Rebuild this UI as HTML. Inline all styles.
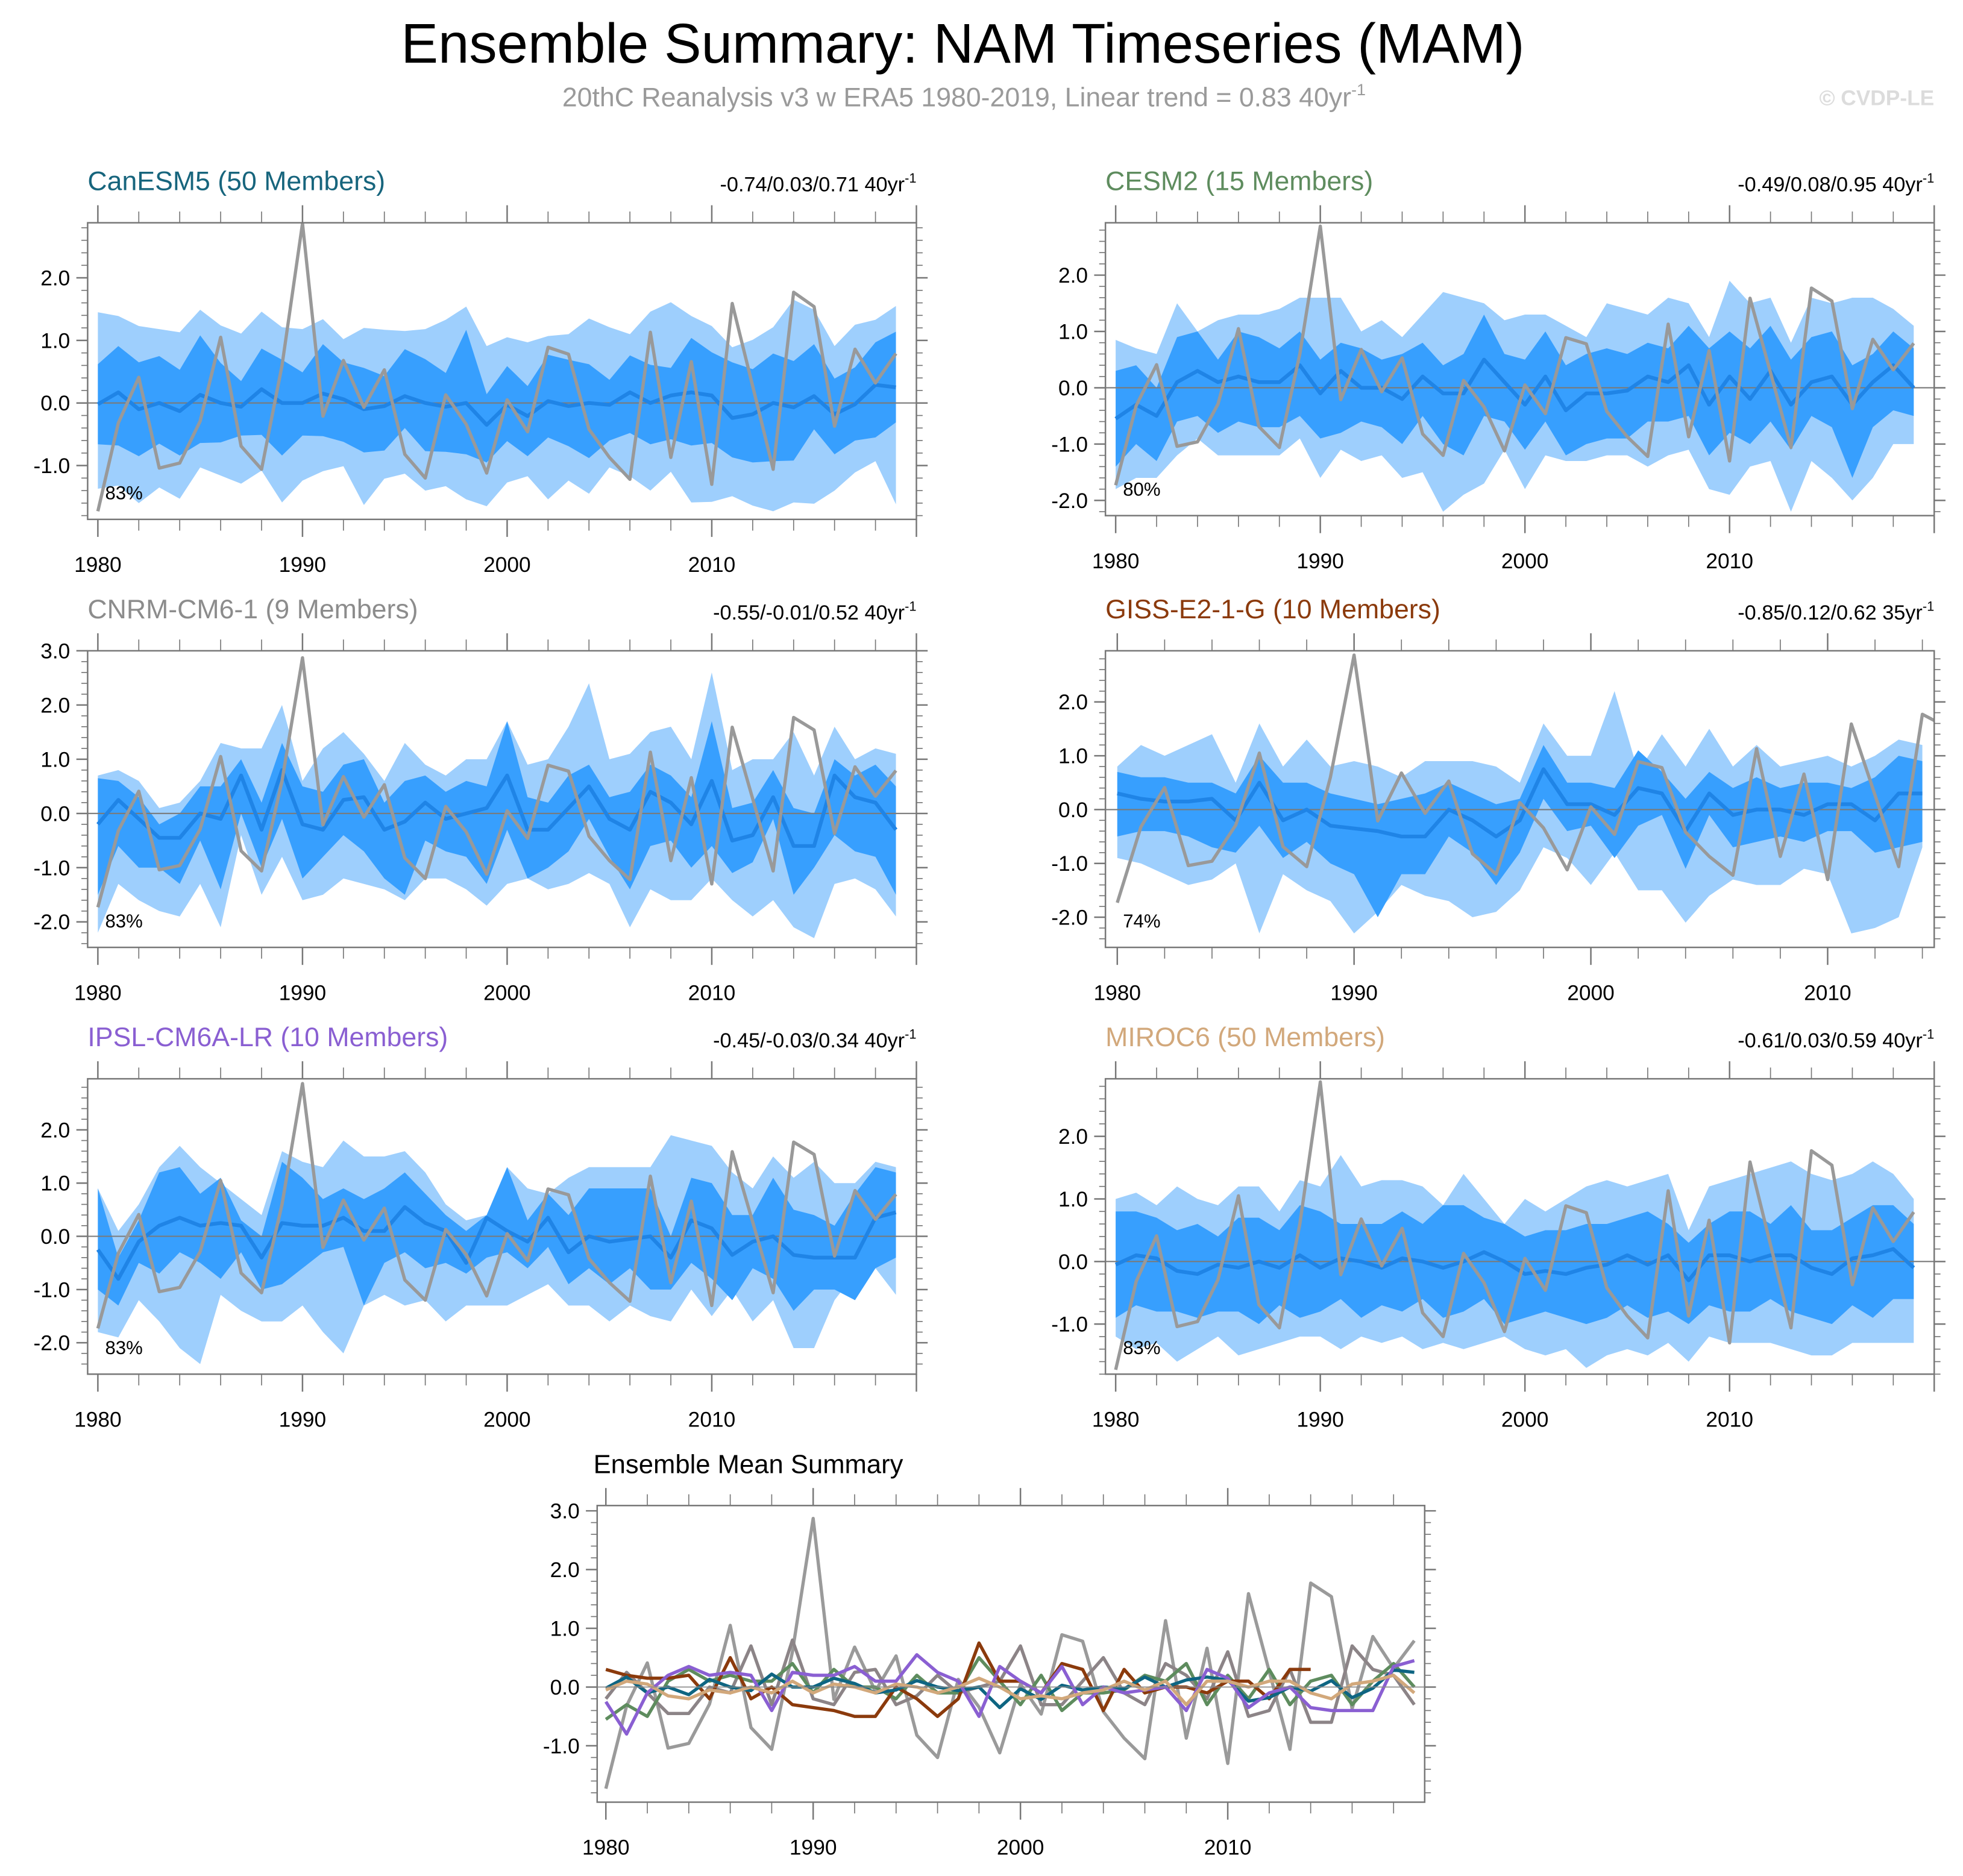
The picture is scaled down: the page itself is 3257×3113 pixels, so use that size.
<!DOCTYPE html>
<html><head><meta charset="utf-8"><style>
html,body{margin:0;padding:0;background:#fff;}
svg{display:block;font-family:"Liberation Sans",sans-serif;}
</style></head><body>
<svg id="fig" xmlns="http://www.w3.org/2000/svg" width="3257" height="3113" viewBox="0 0 1568 1499" preserveAspectRatio="none">
<rect x="0" y="0" width="1568" height="1499" fill="#fff"/>
<text x="769" y="50" font-size="44.5" text-anchor="middle" fill="#000">Ensemble Summary: NAM Timeseries (MAM)</text>
<text x="770" y="85" font-size="21.5" text-anchor="middle" fill="#9a9a9a">20thC Reanalysis v3 w ERA5 1980-2019, Linear trend = 0.83 40yr<tspan font-size="13" dy="-9">-1</tspan></text>
<text x="1545" y="84" font-size="17" font-weight="bold" text-anchor="end" fill="#dcdcdc">© CVDP-LE</text>
<g id="plots"></g>
</svg>
<script>
const obs = [-1.73,-0.32,0.41,-1.04,-0.96,-0.29,1.05,-0.69,-1.06,0.6,2.87,-0.21,0.68,-0.07,0.53,-0.82,-1.2,0.13,-0.34,-1.12,0.05,-0.46,0.89,0.78,-0.42,-0.87,-1.22,1.13,-0.87,0.66,-1.3,1.59,0.27,-1.06,1.77,1.54,-0.37,0.86,0.32,0.79];

const canMean = [-0.02,0.17,-0.1,0,-0.13,0.13,0,-0.06,0.22,0,0,0.15,0.06,-0.1,-0.05,0.11,0,-0.06,0,-0.35,-0.03,-0.21,0.03,-0.05,0,-0.03,0.17,0,0.12,0.17,0.12,-0.24,-0.18,0,-0.07,0.11,-0.18,-0.02,0.29,0.25];
const canDarkHi = [0.62,0.91,0.65,0.75,0.53,1.08,0.64,0.35,0.87,0.69,0.49,0.94,0.65,0.56,0.43,0.86,0.7,0.48,1.17,0.14,0.59,0.27,0.77,0.69,0.62,0.37,0.76,0.61,0.56,1.04,0.81,0.65,0.54,0.79,0.67,0.94,0.39,0.57,0.97,1.14];
const canDarkLo = [-0.66,-0.68,-0.85,-0.65,-0.84,-0.64,-0.63,-0.52,-0.51,-0.84,-0.52,-0.53,-0.62,-0.79,-0.76,-0.4,-0.77,-0.78,-0.82,-0.95,-0.61,-0.85,-0.55,-0.69,-0.88,-0.6,-0.48,-0.66,-0.58,-0.68,-0.64,-0.87,-0.95,-0.93,-0.92,-0.42,-0.82,-0.6,-0.55,-0.31];
const canLightHi = [1.45,1.39,1.23,1.18,1.13,1.49,1.24,1.11,1.46,1.21,1.18,1.34,1.02,1.2,1.17,1.15,1.18,1.33,1.54,0.91,1.05,0.97,1.07,1.1,1.35,1.21,1.1,1.46,1.61,1.39,1.23,0.89,1.01,1.21,1.65,1.49,0.91,1.25,1.33,1.55];
const canLightLo = [-1.37,-1.32,-1.6,-1.35,-1.53,-1.03,-1.16,-1.29,-1.08,-1.59,-1.24,-1.09,-1.01,-1.63,-1.21,-1.13,-1.4,-1.33,-1.54,-1.65,-1.27,-1.17,-1.54,-1.24,-1.45,-1.03,-1.17,-1.4,-1.1,-1.59,-1.58,-1.49,-1.64,-1.73,-1.59,-1.61,-1.4,-1.11,-0.93,-1.62];

const cesmMean = [-0.55,-0.3,-0.5,0.1,0.3,0.1,0.2,0.1,0.1,0.4,-0.1,0.3,0,0,-0.2,0.2,-0.1,-0.1,0.5,0.1,-0.3,0.2,-0.4,-0.1,-0.1,-0.05,0.2,0.1,0.4,-0.3,0.2,-0.2,0.3,-0.3,0.1,0.2,-0.3,0.1,0.4,0];
const cesmDarkHi = [0.3,0.4,0,0.9,1,0.5,1,0.9,0.7,1,0.5,0.8,0.7,0.5,0.6,0.8,0.4,0.6,1.3,0.6,0.5,1,0.4,0.6,0.7,0.6,0.8,0.7,1.1,0.7,1,0.7,1.1,0.5,0.9,1,0.4,0.6,1,0.7];
const cesmDarkLo = [-1.4,-1,-1.3,-0.6,-0.5,-0.8,-0.6,-0.7,-0.7,-0.5,-0.9,-0.8,-0.6,-0.7,-1,-0.5,-1,-1.2,-0.5,-0.6,-1.1,-0.6,-1.2,-1,-0.9,-0.9,-0.6,-0.6,-0.5,-1.2,-0.8,-1,-0.6,-1.1,-0.5,-0.7,-1.6,-0.7,-0.4,-0.5];
const cesmLightHi = [0.85,0.7,0.6,1.5,1,1.2,1.3,1.3,1.4,1.6,1.6,1.6,1,1.2,0.9,1.3,1.7,1.6,1.5,1.2,1.3,1.3,1.1,0.9,1.5,1.4,1.3,1.6,1.5,0.9,1.9,1.5,1.6,0.8,1.6,1.5,1.6,1.6,1.4,1.1];
const cesmLightLo = [-1.8,-1.6,-1.6,-1.2,-0.9,-1.2,-1.2,-1.2,-1.2,-0.9,-1.6,-1.1,-1.3,-1.2,-1.6,-1.5,-2.2,-1.9,-1.7,-1.1,-1.8,-1.2,-1.3,-1.3,-1.2,-1.2,-1.4,-1.2,-1.1,-1.8,-1.9,-1.4,-1.3,-2.2,-1.3,-1.6,-2,-1.6,-1,-1];

const cnrmMean = [-0.2,0.25,-0.1,-0.45,-0.45,0,-0.1,0.7,-0.3,0.8,-0.2,-0.3,0.25,0.3,-0.3,-0.15,0.2,-0.1,0,0.1,0.7,-0.3,-0.3,0.1,0.5,-0.1,-0.3,0.4,0.2,-0.2,0.6,-0.5,-0.4,0.3,-0.6,-0.6,0.7,0.3,0.2,-0.3];
const cnrmDarkHi = [0.65,0.6,0.3,-0.2,0,0.5,0.5,1,0.2,1.3,0.5,0.4,0.9,1,0.2,0.6,0.7,0.4,0.6,0.5,1.7,0.3,0.2,0.7,0.9,0.3,0.4,0.9,0.7,0.3,1.7,0.1,0.2,0.8,0.1,0,1,0.7,0.9,0.5];
const cnrmDarkLo = [-1.5,-0.6,-1,-1,-1.3,-0.5,-1.4,0,-1,-0.1,-1.2,-0.8,-0.4,-0.7,-1.2,-1.5,-0.5,-0.7,-0.8,-1.3,-0.3,-1.2,-1,-0.7,-0.1,-0.8,-1.4,-0.6,-0.5,-1,-0.6,-1.1,-0.9,-0.1,-1.5,-1,-0.4,-0.7,-0.8,-1.5];
const cnrmLightHi = [0.7,0.8,0.6,0.1,0.2,0.6,1.3,1.2,1.2,2,0.6,1.2,1.5,1.1,0.6,1.3,0.9,0.7,1,1,1.7,0.9,1,1.6,2.4,1,1.1,1.5,1.6,1,2.6,0.8,1,1,1.5,0.7,1.6,1,1.2,1.1];
const cnrmLightLo = [-2.2,-1.3,-1.6,-1.8,-1.9,-1.3,-2.1,-0.4,-1.5,-0.8,-1.6,-1.5,-1.2,-1.3,-1.4,-1.6,-1.2,-1.2,-1.4,-1.7,-1.3,-1.2,-1.4,-1.3,-1.1,-1.3,-2.1,-1.4,-1.6,-1.6,-1.2,-1.6,-1.9,-1.6,-2.1,-2.3,-1.3,-1.2,-1.4,-1.9];

const gissMean = [0.3,0.2,0.15,0.15,0.2,-0.2,0.5,-0.2,0,-0.3,-0.35,-0.4,-0.5,-0.5,0,-0.2,-0.5,-0.2,0.75,0.1,0.1,-0.1,0.4,0.3,-0.4,0.3,-0.1,0,0,-0.1,0.1,0.1,-0.2,0.3,0.3];
const gissDarkHi = [0.7,0.6,0.6,0.5,0.5,0.3,1,0.5,0.5,0.3,0.2,0.1,0.2,0.3,0.5,0.3,0.1,0.2,1.2,0.5,0.5,0.4,1.1,0.7,0.2,0.7,0.4,0.6,0.4,0.5,0.5,0.4,0.6,1,0.9];
const gissDarkLo = [-0.5,-0.4,-0.4,-0.5,-0.7,-0.8,-0.3,-0.9,-0.6,-1,-1.2,-2,-1.2,-1.2,-0.5,-0.8,-1.4,-0.8,0.2,-0.4,-0.3,-0.9,-0.3,-0.1,-1.1,-0.1,-0.7,-0.6,-0.5,-0.6,-0.4,-0.4,-0.8,-0.7,-0.6];
const gissLightHi = [0.8,1.2,1,1.2,1.4,0.5,1.6,0.8,1.3,0.8,0.9,0.8,0.6,0.9,0.9,0.9,0.8,0.5,1.6,1,1,2.2,0.7,1.4,0.8,1.5,0.8,1.2,0.8,0.9,1,0.8,1,1.3,1.2];
const gissLightLo = [-0.9,-1,-1.2,-1.4,-1.3,-1,-2.3,-1.2,-1.5,-1.7,-2.3,-1.9,-1.4,-1.6,-1.7,-2,-1.9,-1.5,-0.7,-0.9,-1.4,-0.8,-1.5,-1.5,-2.1,-1.6,-1.3,-1.4,-1.4,-1.1,-1.2,-2.3,-2.2,-2,-0.7];

const ipslMean = [-0.25,-0.8,-0.1,0.2,0.35,0.2,0.25,0.2,-0.4,0.25,0.2,0.2,0.35,0.1,0.1,0.55,0.25,0.1,-0.5,0.35,0.1,-0.1,0.35,-0.3,0,-0.1,-0.05,0,-0.4,0.3,0.15,-0.35,-0.1,0,-0.35,-0.4,-0.4,-0.4,0.35,0.45];
const ipslDarkHi = [0.9,-0.4,0.3,1.2,1.3,0.8,1.1,0.3,0,1.4,1.1,0.7,0.9,0.7,0.9,1.2,0.8,0.4,0.1,0.4,1.3,0.3,0.8,0.4,0.9,0.9,0.9,0.9,0,1.1,1,0.4,0.4,1.1,0.5,0.4,0.2,0.8,1.3,1.2];
const ipslDarkLo = [-1,-1.3,-0.5,-0.7,-0.3,-0.5,-0.8,-0.3,-1,-0.9,-0.6,-0.3,-0.2,-1.3,-0.5,-0.3,-0.6,-0.5,-0.7,-0.4,-0.3,-0.6,-0.2,-0.9,-0.6,-0.9,-0.6,-1,-1,-0.5,-0.8,-1.2,-0.6,-0.8,-1.4,-1,-1,-1.2,-0.6,-0.4];
const ipslLightHi = [0.9,0.1,0.6,1.3,1.7,1.3,1,0.7,0.4,1.6,1.4,1.3,1.8,1.5,1.5,1.6,1.2,0.6,0.3,0.4,1.3,0.9,0.8,1.1,1.3,1.3,1.3,1.3,1.9,1.8,1.7,1.2,0.9,1.5,1.1,1.4,1,1,1.4,1.3];
const ipslLightLo = [-1.8,-1.9,-1.2,-1.6,-2.1,-2.4,-1.1,-1.4,-1.6,-1.6,-1.3,-1.8,-2.2,-1.3,-1.1,-1.3,-1.2,-1.6,-1.3,-1.3,-1.3,-1.1,-0.9,-1.3,-1.3,-1.6,-1.3,-1.5,-1.6,-1,-1.5,-1,-1.6,-1.2,-2.1,-2.1,-1.2,-0.7,-0.6,-1.1];

const mirocMean = [-0.05,0.1,0.05,-0.15,-0.2,-0.05,-0.1,0,-0.1,0.1,-0.1,0.05,0,-0.1,0.05,0,-0.1,0,0.15,0,-0.2,-0.15,-0.2,-0.1,-0.05,0.1,-0.05,0.1,-0.3,0.1,0.1,0,0.1,0.1,-0.1,-0.2,0.05,0.1,0.2,-0.1];
const mirocDarkHi = [0.8,0.8,0.7,0.5,0.6,0.4,0.7,0.7,0.5,0.9,0.8,0.6,0.6,0.6,0.8,0.6,0.9,0.9,0.7,0.6,0.4,0.5,0.5,0.6,0.6,0.7,0.8,0.6,0.3,0.6,0.8,0.8,0.6,0.9,0.5,0.5,0.7,0.9,0.9,0.6];
const mirocDarkLo = [-0.9,-0.7,-0.8,-0.8,-0.9,-0.8,-0.8,-1,-0.7,-0.9,-0.8,-0.6,-0.9,-0.7,-0.8,-0.6,-0.9,-0.8,-0.6,-1,-0.9,-0.8,-0.9,-1,-0.9,-0.7,-0.9,-0.8,-1,-0.7,-0.8,-0.8,-0.6,-0.8,-0.9,-1,-0.7,-0.9,-0.6,-0.6];
const mirocLightHi = [1,1.1,0.9,1.2,1,0.9,1.2,1.2,0.8,1.3,1.2,1.7,1.2,1.3,1.3,1.2,0.9,1.4,1,0.6,1,0.8,1,1.2,1.3,1.2,1.3,1.4,0.5,1.2,1.3,1.4,1.5,1.6,1.4,1.3,1.4,1.6,1.4,1];
const mirocLightLo = [-1.2,-1.4,-1.3,-1.6,-1.4,-1.2,-1.5,-1.4,-1.3,-1.2,-1.2,-1.4,-1.2,-1.3,-1.2,-1.4,-1.3,-1.4,-1.3,-1.2,-1.4,-1.5,-1.4,-1.7,-1.5,-1.4,-1.5,-1.3,-1.6,-1.2,-1.3,-1.3,-1.3,-1.4,-1.5,-1.5,-1.3,-1.3,-1.3,-1.3];

const xTickLabels = [1980,1990,2000,2010];
const NS = "http://www.w3.org/2000/svg";
const root = document.getElementById('plots');

function mk(tag, attrs, parent){
  const e = document.createElementNS(NS, tag);
  for (const k in attrs) e.setAttribute(k, attrs[k]);
  (parent||root).appendChild(e);
  return e;
}

const panels = [
 {id:'canesm5', title:'CanESM5 (50 Members)', color:'#17657d', trend:'-0.74/0.03/0.71 40yr', pct:'83%', x0:70,x1:732,y0:178,y1:415,xmin:1979.5,xmax:2020,ymin:-1.86,ymax:2.88,yt:[-1,0,1,2], mean:canMean,dh:canDarkHi,dl:canDarkLo,lh:canLightHi,ll:canLightLo},
 {id:'cesm2', title:'CESM2 (15 Members)', color:'#5e8c5e', trend:'-0.49/0.08/0.95 40yr', pct:'80%', x0:883,x1:1545,y0:178,y1:412,xmin:1979.5,xmax:2020,ymin:-2.27,ymax:2.93,yt:[-2,-1,0,1,2], mean:cesmMean,dh:cesmDarkHi,dl:cesmDarkLo,lh:cesmLightHi,ll:cesmLightLo},
 {id:'cnrm-cm6-1', title:'CNRM-CM6-1 (9 Members)', color:'#8c8c8c', trend:'-0.55/-0.01/0.52 40yr', pct:'83%', x0:70,x1:732,y0:520,y1:757,xmin:1979.5,xmax:2020,ymin:-2.47,ymax:3.0,yt:[-2,-1,0,1,2,3], mean:cnrmMean,dh:cnrmDarkHi,dl:cnrmDarkLo,lh:cnrmLightHi,ll:cnrmLightLo},
 {id:'giss-e2-1-g', title:'GISS-E2-1-G (10 Members)', color:'#8b3a0c', trend:'-0.85/0.12/0.62 35yr', pct:'74%', x0:883,x1:1545,y0:520,y1:757,xmin:1979.5,xmax:2014.5,ymin:-2.56,ymax:2.95,yt:[-2,-1,0,1,2], mean:gissMean,dh:gissDarkHi,dl:gissDarkLo,lh:gissLightHi,ll:gissLightLo},
 {id:'ipsl-cm6a-lr', title:'IPSL-CM6A-LR (10 Members)', color:'#8a5fd2', trend:'-0.45/-0.03/0.34 40yr', pct:'83%', x0:70,x1:732,y0:862,y1:1098,xmin:1979.5,xmax:2020,ymin:-2.59,ymax:2.96,yt:[-2,-1,0,1,2], mean:ipslMean,dh:ipslDarkHi,dl:ipslDarkLo,lh:ipslLightHi,ll:ipslLightLo},
 {id:'miroc6', title:'MIROC6 (50 Members)', color:'#d2a87b', trend:'-0.61/0.03/0.59 40yr', pct:'83%', x0:883,x1:1545,y0:862,y1:1098,xmin:1979.5,xmax:2020,ymin:-1.8,ymax:2.92,yt:[-1,0,1,2], mean:mirocMean,dh:mirocDarkHi,dl:mirocDarkLo,lh:mirocLightHi,ll:mirocLightLo}
];

function axes(p, g){
  const sx = v => p.x0 + (v - p.xmin) / (p.xmax - p.xmin) * (p.x1 - p.x0);
  const sy = v => p.y1 - (v - p.ymin) / (p.ymax - p.ymin) * (p.y1 - p.y0);
  for (let yv = Math.ceil(p.ymin*5)/5; yv <= p.ymax + 1e-9; yv += 0.2) {
    const r = Math.round(yv*5)/5;
    const major = Math.abs(r - Math.round(r)) < 1e-6;
    const L = major ? 9 : 5;
    const y = sy(r);
    mk('line',{x1:p.x0-L,x2:p.x0,y1:y,y2:y,stroke:'#777','stroke-width':major?1.2:0.8},g);
    mk('line',{x1:p.x1,x2:p.x1+L,y1:y,y2:y,stroke:'#777','stroke-width':major?1.2:0.8},g);
  }
  for (let yr = 1980; yr <= p.xmax; yr += 2) {
    const major = yr % 10 === 0;
    const L = major ? 14 : 9;
    const x = sx(yr);
    mk('line',{x1:x,x2:x,y1:p.y1,y2:p.y1+L,stroke:'#777','stroke-width':major?1.2:0.8},g);
    mk('line',{x1:x,x2:x,y1:p.y0-L,y2:p.y0,stroke:'#777','stroke-width':major?1.2:0.8},g);
  }
  for (const yv of p.yt) {
    const t = mk('text',{x:p.x0-14,y:sy(yv)+6,'font-size':17,'text-anchor':'end',fill:'#000'},g);
    
    
    t.textContent = yv.toFixed(1);
  }
  for (const yr of xTickLabels) {
    const t = mk('text',{x:sx(yr),y:p.y1+42,'font-size':17,'text-anchor':'middle',fill:'#000'},g);
    
    
    t.textContent = yr;
  }
  return {sx, sy};
}

function linePath(arr, sx, sy){
  return arr.map((v,i)=> (i?'L':'M') + sx(1980+i).toFixed(2) + ' ' + sy(v).toFixed(2)).join(' ');
}
function bandPath(hi, lo, sx, sy){
  let d = hi.map((v,i)=> (i?'L':'M') + sx(1980+i).toFixed(2)+' '+sy(v).toFixed(2)).join(' ');
  for (let i = lo.length-1; i >= 0; i--) d += ' L' + sx(1980+i).toFixed(2)+' '+sy(lo[i]).toFixed(2);
  return d + ' Z';
}

panels.forEach((p, k) => {
  const g = mk('g',{});
  
  
  const {sx, sy} = axes(p, g);
  const clipId = 'clip' + k;
  const cp = mk('clipPath',{id:clipId},g);
  mk('rect',{x:p.x0,y:p.y0,width:p.x1-p.x0,height:p.y1-p.y0},cp);
  const inner = mk('g',{'clip-path':'url(#'+clipId+')'},g);
  const lb = mk('path',{d:bandPath(p.lh,p.ll,sx,sy),fill:'#9ecffd'},inner);
  
  
  const db = mk('path',{d:bandPath(p.dh,p.dl,sx,sy),fill:'#379ffe'},inner);
  
  
  mk('line',{x1:p.x0,x2:p.x1,y1:sy(0),y2:sy(0),stroke:'#7a7a7a','stroke-width':1},inner);
  const ml = mk('path',{d:linePath(p.mean,sx,sy),fill:'none',stroke:'#1f84e6','stroke-width':3,'stroke-linejoin':'round'},inner);
  
  
  const ol = mk('path',{d:linePath(obs,sx,sy),fill:'none',stroke:'#999','stroke-width':2.6,'stroke-linejoin':'round'},inner);
  
  
  mk('rect',{x:p.x0,y:p.y0,width:p.x1-p.x0,height:p.y1-p.y0,fill:'none',stroke:'#777','stroke-width':1.2},g);
  const pc = mk('text',{x:p.x0+14,y:p.y1-16,'font-size':15,fill:'#000'},g);
  
  
  pc.textContent = p.pct;
  const tt = mk('text',{x:p.x0,y:p.y0-26,'font-size':21.5,fill:p.color},g);
  
  
  tt.textContent = p.title;
  const tr = mk('text',{x:p.x1,y:p.y0-25,'font-size':16.5,'text-anchor':'end',fill:'#000'},g);
  
  
  tr.textContent = p.trend;
  const sup = mk('tspan',{'font-size':10.5,dy:-7},tr);
  sup.textContent = '-1';
});

const summary = {x0:477,x1:1138,y0:1203,y1:1440,xmin:1979.58,xmax:2019.5,ymin:-1.96,ymax:3.09,yt:[-1,0,1,2,3]};
const summarySeries = [
  {name:'cnrm-mean-line', data:cnrmMean, color:'#8c8487'},
  {name:'cesm2-mean-line', data:cesmMean, color:'#5e8c5e'},
  {name:'giss-mean-line', data:gissMean, color:'#8b3a0c'},
  {name:'canesm5-mean-line', data:canMean, color:'#0e6582'},
  {name:'ipsl-mean-line', data:ipslMean, color:'#8a5fd2'},
  {name:'miroc6-mean-line', data:mirocMean, color:'#d2a87b'}
];
(function(){
  const p = summary;
  const g = mk('g',{});
  
  
  const {sx, sy} = axes(p, g);
  const cp = mk('clipPath',{id:'clipS'},g);
  mk('rect',{x:p.x0,y:p.y0,width:p.x1-p.x0,height:p.y1-p.y0},cp);
  const inner = mk('g',{'clip-path':'url(#clipS)'},g);
  const ol = mk('path',{d:linePath(obs,sx,sy),fill:'none',stroke:'#9a9a9a','stroke-width':2.6,'stroke-linejoin':'round'},inner);
  
  
  summarySeries.forEach(s => {
    const l = mk('path',{d:linePath(s.data,sx,sy),fill:'none',stroke:s.color,'stroke-width':2.6,'stroke-linejoin':'round'},inner);
    
    
  });
  mk('line',{x1:p.x0,x2:p.x1,y1:sy(0),y2:sy(0),stroke:'#888','stroke-width':1,'stroke-opacity':0.8},inner);
  mk('rect',{x:p.x0,y:p.y0,width:p.x1-p.x0,height:p.y1-p.y0,fill:'none',stroke:'#777','stroke-width':1.2},g);
  const tt = mk('text',{x:474,y:1177,'font-size':21,fill:'#000'},g);
  
  
  tt.textContent = 'Ensemble Mean Summary';
})();
</script>
</body></html>
